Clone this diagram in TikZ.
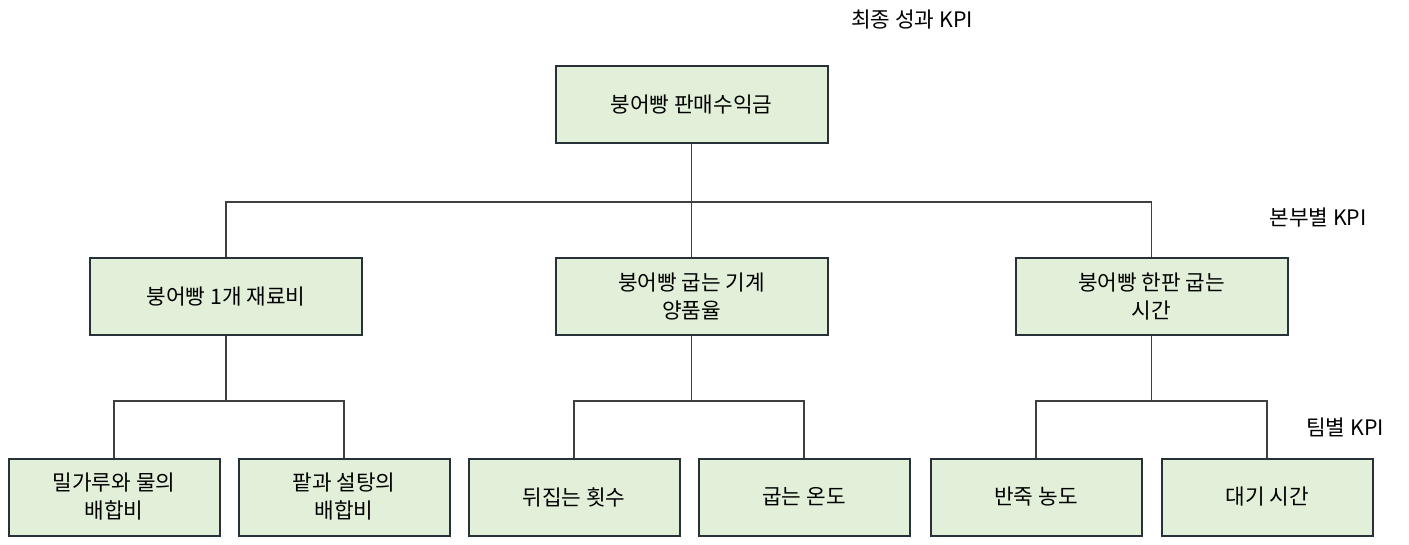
\documentclass[tikz,border=0pt]{standalone}
\usepackage{fontspec}
\setmainfont{Noto Sans CJK KR}
\definecolor{bfill}{RGB}{226,240,217}
\definecolor{bdraw}{RGB}{38,50,56}
\begin{document}
\begin{tikzpicture}[x=0.75pt,y=-0.75pt,
  box/.style={draw=bdraw,fill=bfill,line width=1.5pt,minimum width=272*0.75pt,minimum height=77*0.75pt,align=center,font=\fontsize{16}{21}\selectfont,inner sep=2pt},
  sbox/.style={box,minimum width=211*0.75pt},
  lab/.style={font=\fontsize{16}{20}\selectfont},
  con/.style={draw=black!75,line width=0.8pt}]
\useasboundingbox (0,0) rectangle (1409,544);
\node[box] (top) at (691.5,104.5) {붕어빵 판매수익금};
\node[box] (a) at (226,296.5) {붕어빵 1개 재료비};
\node[box] (b) at (691.5,296.5) {붕어빵 굽는 기계\\양품율};
\node[box] (c) at (1151.5,296.5) {붕어빵 한판 굽는\\시간};
\node[sbox] (a1) at (114,497) {밀가루와 물의\\배합비};
\node[sbox] (a2) at (344,497) {팥과 설탕의\\배합비};
\node[sbox] (b1) at (574,497) {뒤집는 횟수};
\node[sbox] (b2) at (804,497) {굽는 온도};
\node[sbox] (c1) at (1036,497) {반죽 농도};
\node[sbox] (c2) at (1267,497) {대기 시간};
\node[lab] (l1) at (912,20) {최종 성과 KPI};
\node[lab] (l2) at (1318,218) {본부별 KPI};
\node[lab] (l3) at (1345,427) {팀별 KPI};
\coordinate (j0) at (691.5,202);
\draw[con] (top.south) -- (j0);
\draw[con] (a.north) |- (j0) -| (c.north);
\draw[con] (j0) -- (b.north);
\foreach \p/\x/\y in {a/a1/a2,b/b1/b2,c/c1/c2}{
  \draw[con] (\p.south) -- ++(0,65) coordinate (m\p);
  \draw[con] (\x.north) |- (m\p) -| (\y.north);
}
\end{tikzpicture}
\end{document}
